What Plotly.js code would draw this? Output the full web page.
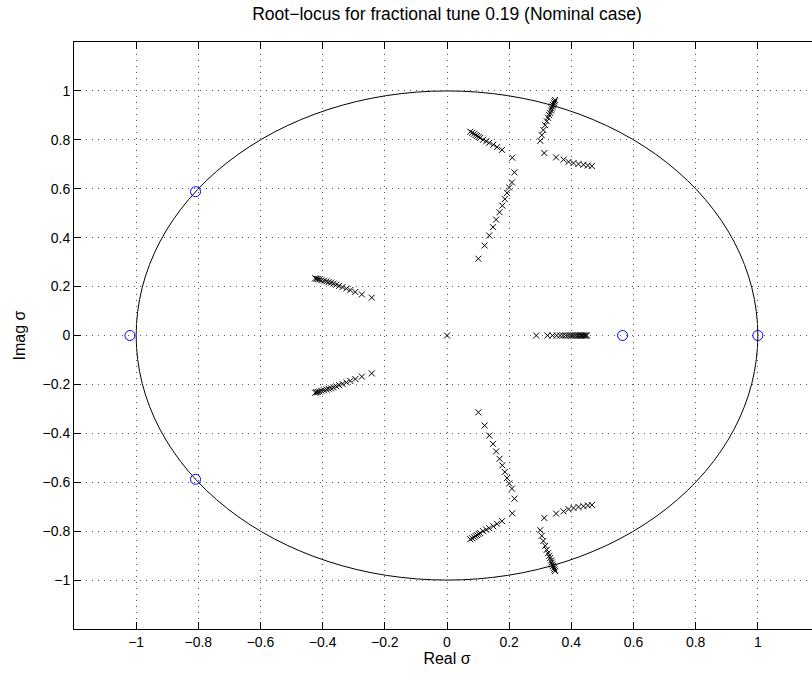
<!DOCTYPE html>
<html>
<head>
<meta charset="utf-8">
<script src="https://cdn.plot.ly/plotly-3.0.1.min.js"></script>
<style>
html,body{margin:0;padding:0;overflow:hidden;background:#fff;}
#plot{width:860px;height:674px;}
</style>
</head>
<body>
<div id="plot"></div>
<script>
// ---- data ----
var tickVals = [-1, -0.8, -0.6, -0.4, -0.2, 0, 0.2, 0.4, 0.6, 0.8, 1];
var unitRadius = 1;

// zeros (blue circles)
var zeroRe = [-1.02, -0.809, -0.809, 0.565, 1.0];
var zeroIm = [0, 0.588, -0.588, 0, 0];

// origin pole
var originRe = [0];
var originIm = [0];

// real-axis branch
var realRe = [0.287, 0.323, 0.339, 0.353, 0.364, 0.373, 0.381, 0.389, 0.396, 0.402, 0.408, 0.414, 0.419, 0.424, 0.429, 0.433, 0.437, 0.441, 0.444, 0.447, 0.450];
var realIm = [0, 0, 0, 0, 0, 0, 0, 0, 0, 0, 0, 0, 0, 0, 0, 0, 0, 0, 0, 0, 0];

// left branches
var leftUpRe = [-0.242, -0.274, -0.295, -0.311, -0.324, -0.336, -0.347, -0.356, -0.365, -0.373, -0.381, -0.388, -0.396, -0.404, -0.411, -0.416, -0.420, -0.424];
var leftUpIm = [0.155, 0.168, 0.178, 0.186, 0.192, 0.198, 0.203, 0.208, 0.212, 0.216, 0.218, 0.221, 0.224, 0.226, 0.229, 0.231, 0.232, 0.234];
var leftDnRe = [-0.242, -0.274, -0.295, -0.311, -0.324, -0.336, -0.347, -0.356, -0.365, -0.373, -0.381, -0.388, -0.396, -0.404, -0.411, -0.416, -0.420, -0.424];
var leftDnIm = [-0.155, -0.168, -0.178, -0.186, -0.192, -0.198, -0.203, -0.208, -0.212, -0.216, -0.218, -0.221, -0.224, -0.226, -0.229, -0.231, -0.232, -0.234];

// centre branches (upper half)
var cenAUpRe = [0.075, 0.081, 0.087, 0.092, 0.097, 0.102, 0.107, 0.116, 0.126, 0.136, 0.149, 0.161, 0.177, 0.210];
var cenAUpIm = [0.833, 0.829, 0.825, 0.820, 0.816, 0.812, 0.808, 0.800, 0.794, 0.788, 0.780, 0.770, 0.759, 0.727];
var cenBUpRe = [0.101, 0.121, 0.136, 0.148, 0.158, 0.169, 0.178, 0.186, 0.193, 0.200, 0.209, 0.217];
var cenBUpIm = [0.314, 0.368, 0.409, 0.443, 0.474, 0.504, 0.531, 0.558, 0.583, 0.605, 0.626, 0.667];
// centre branches (lower half)
var cenADnRe = [0.075, 0.081, 0.087, 0.092, 0.097, 0.102, 0.107, 0.116, 0.126, 0.136, 0.149, 0.161, 0.177, 0.210];
var cenADnIm = [-0.833, -0.829, -0.825, -0.820, -0.816, -0.812, -0.808, -0.800, -0.794, -0.788, -0.780, -0.770, -0.759, -0.727];
var cenBDnRe = [0.101, 0.121, 0.136, 0.148, 0.158, 0.169, 0.178, 0.186, 0.193, 0.200, 0.209, 0.217];
var cenBDnIm = [-0.314, -0.368, -0.409, -0.443, -0.474, -0.504, -0.531, -0.558, -0.583, -0.605, -0.626, -0.667];

// right branches (upper half)
var rSteepUpRe = [0.348, 0.346, 0.344, 0.341, 0.339, 0.337, 0.335, 0.332, 0.329, 0.325, 0.321, 0.316, 0.310, 0.305, 0.300];
var rSteepUpIm = [0.963, 0.957, 0.950, 0.943, 0.936, 0.928, 0.920, 0.910, 0.901, 0.890, 0.876, 0.860, 0.840, 0.819, 0.796];
var rFlatUpRe = [0.313, 0.351, 0.375, 0.391, 0.407, 0.423, 0.439, 0.453, 0.466];
var rFlatUpIm = [0.746, 0.728, 0.719, 0.710, 0.705, 0.701, 0.698, 0.695, 0.693];
// right branches (lower half)
var rSteepDnRe = [0.348, 0.346, 0.344, 0.341, 0.339, 0.337, 0.335, 0.332, 0.329, 0.325, 0.321, 0.316, 0.310, 0.305, 0.300];
var rSteepDnIm = [-0.963, -0.957, -0.950, -0.943, -0.936, -0.928, -0.920, -0.910, -0.901, -0.890, -0.876, -0.860, -0.840, -0.819, -0.796];
var rFlatDnRe = [0.313, 0.351, 0.375, 0.391, 0.407, 0.423, 0.439, 0.453, 0.466];
var rFlatDnIm = [-0.746, -0.728, -0.719, -0.710, -0.705, -0.701, -0.698, -0.695, -0.693];

// ---- build traces ----
var FONT = '"Liberation Sans", Arial, Helvetica, sans-serif';
var branches = [
  [originRe, originIm], [realRe, realIm],
  [leftUpRe, leftUpIm], [leftDnRe, leftDnIm],
  [cenAUpRe, cenAUpIm], [cenBUpRe, cenBUpIm],
  [cenADnRe, cenADnIm], [cenBDnRe, cenBDnIm],
  [rSteepUpRe, rSteepUpIm], [rFlatUpRe, rFlatUpIm],
  [rSteepDnRe, rSteepDnIm], [rFlatDnRe, rFlatDnIm]
];
var traces = branches.map(function (b) {
  return {
    x: b[0], y: b[1], type: 'scatter', mode: 'markers', showlegend: false,
    marker: {symbol: 'x-thin-open', size: 6, color: '#000', line: {color: '#000', width: 1}}
  };
});
traces.push({
  x: zeroRe, y: zeroIm, type: 'scatter', mode: 'markers', showlegend: false,
  marker: {symbol: 'circle-open', size: 10, color: '#0000ff', line: {color: '#0000ff', width: 1}}
});

var axisCommon = {
  range: [-1.2, 1.2], tickmode: 'array', tickvals: tickVals,
  ticks: 'inside', ticklen: 7, tickwidth: 1, tickcolor: '#000',
  showline: true, linecolor: '#000', linewidth: 1, mirror: 'ticks',
  showgrid: true, gridcolor: '#555', gridwidth: 1, griddash: '1px,5px',
  zeroline: false, tickfont: {family: FONT, size: 14, color: '#000'}
};

var layout = {
  width: 860, height: 674,
  margin: {l: 74, r: 40, t: 42, b: 45},
  paper_bgcolor: '#fff', plot_bgcolor: '#fff',
  font: {family: FONT, color: '#000'},
  title: {text: 'Root\u2212locus for fractional tune 0.19 (Nominal case)', font: {family: FONT, size: 17.5, color: '#000'},
          xref: 'paper', x: 0.5, xanchor: 'center', yref: 'container', y: 0.979, yanchor: 'middle'},
  xaxis: Object.assign({}, axisCommon, {title: {text: 'Real \u03c3', font: {family: FONT, size: 16}, standoff: 0}}),
  yaxis: Object.assign({}, axisCommon, {title: {text: 'Imag \u03c3', font: {family: FONT, size: 16}, standoff: 12}}),
  shapes: [{type: 'circle', xref: 'x', yref: 'y', x0: -unitRadius, y0: -unitRadius, x1: unitRadius, y1: unitRadius,
            line: {color: '#000', width: 1}, layer: 'below'}]
};

Plotly.newPlot('plot', traces, layout, {staticPlot: true, displayModeBar: false});
</script>
</body>
</html>
